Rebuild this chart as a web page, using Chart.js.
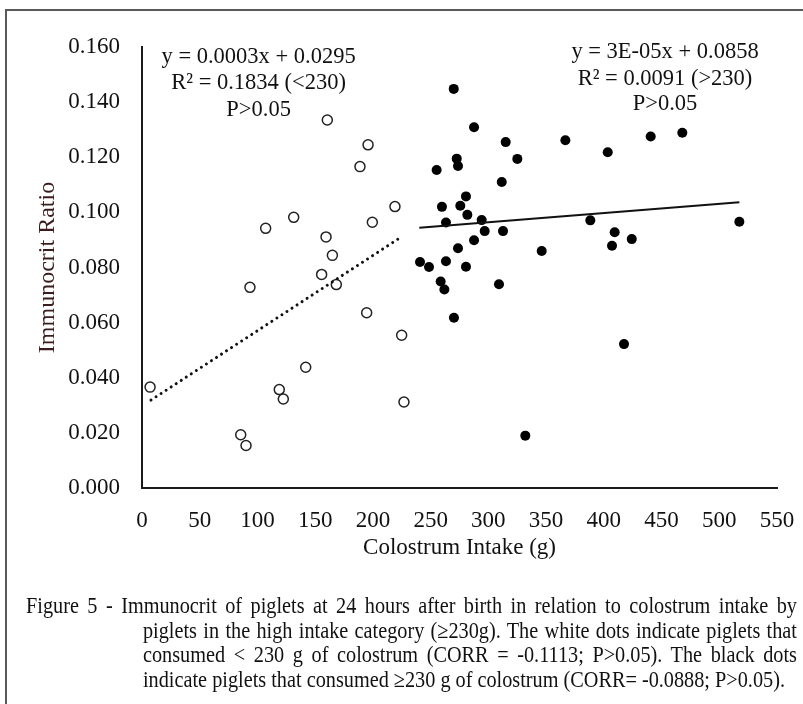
<!DOCTYPE html>
<html>
<head>
<meta charset="utf-8">
<script src="https://cdn.jsdelivr.net/npm/chart.js@4.4.1/dist/chart.umd.min.js"></script>
<style>
html,body{margin:0;padding:0;background:#fff;}
#wrap{position:relative;width:803px;height:704px;overflow:hidden;background:#fff;}
#frame{position:absolute;left:5px;top:9px;width:900px;height:800px;border-top:2px solid #5a5a5a;border-left:2px solid #5a5a5a;}
#c{position:absolute;left:0;top:0;}
#cap{position:absolute;left:26px;top:594px;transform-origin:0 0;font-family:'Liberation Serif','Times New Roman',serif;font-size:23px;color:#111;}
#cap div{height:24.7px;line-height:24.7px;white-space:nowrap;}
#cap .j{text-align:justify;text-align-last:justify;}
#measure{position:absolute;visibility:hidden;white-space:nowrap;font-family:'Liberation Serif','Times New Roman',serif;font-size:23px;}
</style>
</head>
<body>
<div id="wrap">
  <div id="frame"></div>
  <canvas id="c" width="803" height="704"></canvas>
  <div id="cap"></div>
  <span id="measure"></span>
</div>
<script>
// ---------- data ----------
const lowIntakeX = [7, 85.5, 90.1, 93.5, 107.1, 118.9, 122.4, 131.4, 141.8, 155.6, 159.4, 160.5, 164.9, 168.3, 188.8, 194.6, 195.8, 199.5, 219.1, 224.9, 226.9];
const lowIntakeY = [0.0366, 0.0193, 0.0154, 0.0728, 0.0942, 0.0357, 0.0323, 0.0982, 0.0438, 0.0775, 0.0911, 0.1335, 0.0844, 0.0738, 0.1166, 0.0636, 0.1245, 0.0964, 0.1021, 0.0554, 0.0312];

const highIntakeX = [240.8, 248.6, 255.2, 258.7, 259.8, 261.9, 263.3, 263.3, 270.0, 270.2, 272.6, 273.7, 273.7, 275.7, 280.6, 280.6, 281.8, 287.6, 287.6, 294.2, 296.8, 309.2, 311.6, 312.7, 315.0, 325.1, 332.0, 346.2, 366.7, 388.3, 403.4, 407.1, 409.4, 417.5, 424.2, 440.6, 468.0, 517.4];
const highIntakeY = [0.0820, 0.0802, 0.1154, 0.0749, 0.1020, 0.0720, 0.0963, 0.0823, 0.1448, 0.0618, 0.1195, 0.1168, 0.0870, 0.1024, 0.1058, 0.0803, 0.0991, 0.1309, 0.0899, 0.0972, 0.0932, 0.0739, 0.1110, 0.0932, 0.1255, 0.1194, 0.0190, 0.0860, 0.1262, 0.0971, 0.1218, 0.0879, 0.0928, 0.0522, 0.0903, 0.1275, 0.1289, 0.0966];

const lowTrendX = [7.8, 225];
const lowTrendY = [0.0319, 0.0912];
const highTrendX = [240.2, 517.4];
const highTrendY = [0.0944, 0.1037];

const xTickValues = [0, 50, 100, 150, 200, 250, 300, 350, 400, 450, 500, 550];
const yTickValues = [0, 0.02, 0.04, 0.06, 0.08, 0.10, 0.12, 0.14, 0.16];

const xTitle = 'Colostrum Intake (g)';
const yTitle = 'Immunocrit Ratio';
const lowEquation = ['y = 0.0003x + 0.0295', 'R\u00B2 = 0.1834 (<230)', 'P>0.05'];
const highEquation = ['y = 3E-05x + 0.0858', 'R\u00B2 = 0.0091 (>230)', 'P>0.05'];
const captionLines = [
  'Figure 5 - Immunocrit of piglets at 24 hours after birth in relation to colostrum intake by',
  'piglets in the high intake category (\u2265230g). The white dots indicate piglets that',
  'consumed < 230 g of colostrum (CORR = -0.1113; P>0.05). The black dots',
  'indicate piglets that consumed \u2265230 g of colostrum (CORR= -0.0888; P>0.05).'
];

// ---------- caption ----------
(function(){
  const m = document.getElementById('measure');
  m.textContent = captionLines[3];
  const w = m.getBoundingClientRect().width;
  const s = 642 / w;
  const cap = document.getElementById('cap');
  cap.style.transform = 'scaleX(' + s + ')';
  captionLines.forEach((t, i) => {
    const d = document.createElement('div');
    d.textContent = t;
    if (i === 0) { d.className = 'j'; d.style.width = (771 / s) + 'px'; }
    else {
      d.style.marginLeft = (117 / s) + 'px';
      if (i < 3) { d.className = 'j'; d.style.width = (654 / s) + 'px'; }
    }
    cap.appendChild(d);
  });
})();

// ---------- chart ----------
const pts = (xs, ys) => xs.map((x, i) => ({x: x, y: ys[i]}));
const serif = "'Liberation Serif','Times New Roman',serif";

const equationPlugin = {
  id: 'equations',
  afterDraw(chart) {
    const ctx = chart.ctx, xs = chart.scales.x, ys = chart.scales.y;
    ctx.save();
    ctx.fillStyle = '#111';
    ctx.font = '22.5px ' + serif;
    ctx.textAlign = 'center';
    ctx.textBaseline = 'middle';
    const lowPos = [[101, 0.1564], [101, 0.1468], [101, 0.1372]];
    const highPos = [[453, 0.1580], [453, 0.1484], [453, 0.1393]];
    lowEquation.forEach((t, i) => ctx.fillText(t, xs.getPixelForValue(lowPos[i][0]), ys.getPixelForValue(lowPos[i][1])));
    highEquation.forEach((t, i) => ctx.fillText(t, xs.getPixelForValue(highPos[i][0]), ys.getPixelForValue(highPos[i][1])));
    ctx.restore();
  }
};

new Chart(document.getElementById('c'), {
  type: 'scatter',
  data: {
    datasets: [
      {
        label: '<230',
        data: pts(lowIntakeX, lowIntakeY),
        pointRadius: 5,
        pointBorderWidth: 1.5,
        pointBorderColor: '#222',
        pointBackgroundColor: '#fff',
        order: 2
      },
      {
        label: '>=230',
        data: pts(highIntakeX, highIntakeY),
        pointRadius: 5,
        pointBorderWidth: 0,
        pointBackgroundColor: '#000',
        pointBorderColor: '#000',
        order: 2
      },
      {
        type: 'line',
        label: 'trend <230',
        data: pts(lowTrendX, lowTrendY),
        borderColor: '#111',
        borderWidth: 3,
        borderDash: [0.01, 6],
        borderCapStyle: 'round',
        pointRadius: 0,
        fill: false,
        order: 1
      },
      {
        type: 'line',
        label: 'trend >230',
        data: pts(highTrendX, highTrendY),
        borderColor: '#111',
        borderWidth: 2,
        pointRadius: 0,
        fill: false,
        order: 1
      }
    ]
  },
  options: {
    responsive: false,
    devicePixelRatio: 1,
    animation: false,
    layout: { padding: { left: 0, top: 47, right: 26, bottom: 0 } },
    plugins: { legend: { display: false }, tooltip: { enabled: false } },
    scales: {
      x: {
        type: 'linear',
        min: 0, max: 550,
        afterBuildTicks: s => { s.ticks = xTickValues.map(v => ({value: v})); },
        afterFit: s => { s.height = 216; s.paddingLeft = 0; s.paddingRight = 0; },
        grid: { display: false, drawTicks: false },
        border: { display: true, color: '#1a1a1a', width: 2 },
        ticks: { font: { family: serif, size: 23 }, color: '#111', padding: 19, maxRotation: 0, callback: v => String(v) },
        title: { display: true, text: xTitle, font: { family: serif, size: 23 }, color: '#111', padding: { top: 0, bottom: 142 } }
      },
      y: {
        type: 'linear',
        min: 0, max: 0.16,
        afterBuildTicks: s => { s.ticks = yTickValues.map(v => ({value: v})); },
        afterFit: s => { s.width = 142; },
        grid: { display: false, drawTicks: false },
        border: { display: true, color: '#1a1a1a', width: 2 },
        ticks: { font: { family: serif, size: 23 }, color: '#111', padding: 22, callback: v => Number(v).toFixed(3) },
        title: { display: true, text: yTitle, font: { family: serif, size: 24 }, color: '#3a1c1c', padding: { top: 33, bottom: 0 } }
      }
    }
  },
  plugins: [equationPlugin]
});
</script>
</body>
</html>
